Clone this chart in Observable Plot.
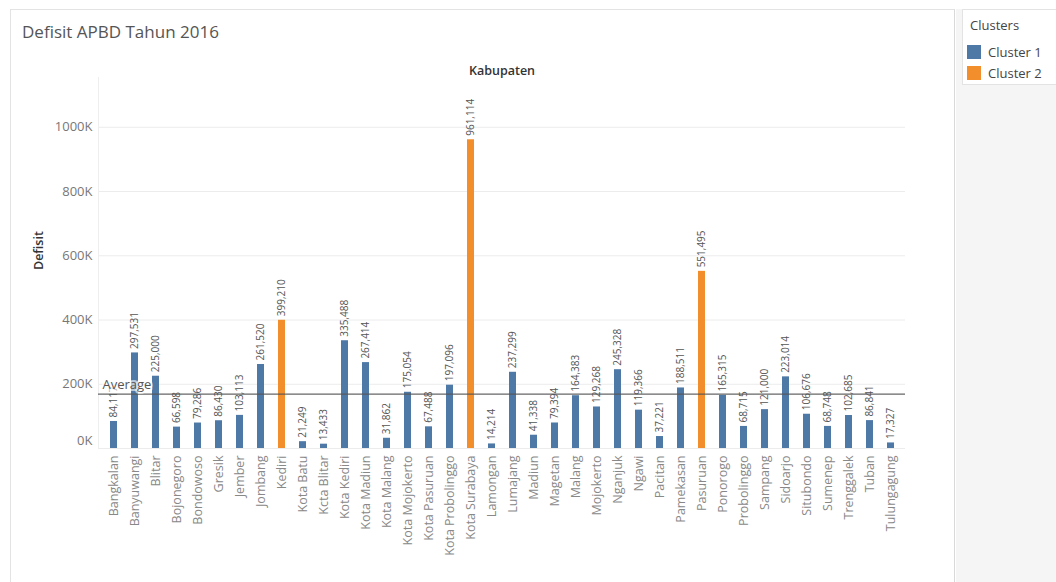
<!DOCTYPE html>
<html>
<head>
<meta charset="utf-8">
<script src="https://cdn.jsdelivr.net/npm/d3@7"></script>
<script src="https://cdn.jsdelivr.net/npm/@observablehq/plot@0.6"></script>
<style>
  html, body { margin: 0; padding: 0; background: #fff; width: 1056px; height: 582px; overflow: hidden; font-family: "Open Sans", sans-serif; }
  #box { position: absolute; left: 10px; top: 9px; width: 945px; height: 580px; border-left: 1px solid #e3e3e3; border-top: 1px solid #e3e3e3; border-right: 1px solid #d9d9d9; box-sizing: border-box; }
  #title { position: absolute; left: 22px; top: 20px; font-size: 17px; color: #555; }
  #chart { position: absolute; left: 10px; top: 50px; }
  #side { position: absolute; left: 956px; top: 9px; width: 100px; height: 573px; background: #f5f5f5; }
  #legend { position: absolute; left: 962px; top: 9px; width: 94px; height: 76px; background: #fff; border: 1px solid #e3e3e3; border-right: none; box-sizing: border-box; }
  #legend .t { position: absolute; left: 7px; top: 6px; font-size: 13px; color: #444; }
  #legend .row { position: absolute; left: 4px; font-size: 13px; color: #444; display: flex; align-items: center; }
  #legend .sw { width: 14px; height: 14px; margin-right: 7px; }
</style>
</head>
<body>
<div id="box"></div>
<div id="title">Defisit APBD Tahun 2016</div>
<div id="side"></div>
<div id="legend"></div>
<div id="chart"></div>
<script>
const categories = ["Bangkalan","Banyuwangi","Blitar","Bojonegoro","Bondowoso","Gresik","Jember","Jombang","Kediri","Kota Batu","Kcta Blitar","Kota Kediri","Kota Madiun","Kota Malang","Kota Mojokerto","Kota Pasuruan","Kota Probolinggo","Kota Surabaya","Lamongan","Lumajang","Madiun","Magetan","Malang","Mojokerto","Nganjuk","Ngawi","Pacitan","Pamekasan","Pasuruan","Ponorogo","Probolinggo","Sampang","Sidoarjo","Situbondo","Sumenep","Trenggalek","Tuban","Tulungagung"];
const defisit = [84117,297531,225000,66598,79286,86430,103113,261520,399210,21249,13433,335488,267414,31862,175054,67488,197096,961114,14214,237299,41338,79394,164383,129268,245328,119366,37221,188511,551495,165315,68715,121000,223014,106676,68748,102685,86841,17327];
const clusters = ["Cluster 1","Cluster 1","Cluster 1","Cluster 1","Cluster 1","Cluster 1","Cluster 1","Cluster 1","Cluster 2","Cluster 1","Cluster 1","Cluster 1","Cluster 1","Cluster 1","Cluster 1","Cluster 1","Cluster 1","Cluster 2","Cluster 1","Cluster 1","Cluster 1","Cluster 1","Cluster 1","Cluster 1","Cluster 1","Cluster 1","Cluster 1","Cluster 1","Cluster 2","Cluster 1","Cluster 1","Cluster 1","Cluster 1","Cluster 1","Cluster 1","Cluster 1","Cluster 1","Cluster 1"];
const clusterNames = ["Cluster 1","Cluster 2"];
const clusterColors = ["#4e79a7","#f28e2b"];
const yTicks = [0,200000,400000,600000,800000,1000000];

const data = categories.map((k, i) => ({kab: k, defisit: defisit[i], cluster: clusters[i]}));
const avg = d3.mean(defisit);
const fmtK = d => (d / 1000) + "K";

const chart = Plot.plot({
  width: 945,
  height: 532,
  marginLeft: 88,
  marginRight: 50,
  marginTop: 27,
  marginBottom: 134,
  style: {fontFamily: "Open Sans, sans-serif", background: "transparent", overflow: "visible"},
  x: {domain: categories, paddingInner: 0.69, paddingOuter: 0.42, label: null},
  y: {domain: [0, 1155000], label: null},
  color: {domain: clusterNames, range: clusterColors},
  marks: [
    Plot.gridY(yTicks, {stroke: "#ececec", strokeOpacity: 1}),
    Plot.frame({anchor: "left", stroke: "#eeeeee"}),
    Plot.axisY(yTicks.filter(d => d > 0), {tickFormat: fmtK, tickSize: 0, tickPadding: 6, fontSize: 13, fill: "#777", label: null}),
    Plot.axisY([0], {tickFormat: fmtK, tickSize: 0, tickPadding: 6, dy: -8, fontSize: 13, fill: "#777", label: null}),
    Plot.axisX({tickRotate: -90, tickSize: 0, tickPadding: 7, fontSize: 12.5, fill: "#888", label: null}),
    Plot.barY(data, {x: "kab", y: "defisit", fill: "cluster"}),
    Plot.text(data, {x: "kab", y: "defisit", text: d => d3.format(",")(d.defisit), rotate: -90, textAnchor: "start", dy: -4, fontSize: 10, fill: "#555"}),
    Plot.ruleY([avg], {stroke: "#555", strokeWidth: 1.3, strokeOpacity: 0.9}),
    Plot.text([avg], {y: d => d, frameAnchor: "left", text: () => "Average", textAnchor: "start", dx: 4, dy: -9, fontSize: 13, fill: "#555", stroke: "white", strokeOpacity: 0.6, strokeWidth: 4}),
    Plot.text(["Kabupaten"], {frameAnchor: "top", dy: -11, text: d => d, fontSize: 12.5, fontWeight: 600, fill: "#333"}),
    Plot.text(["Defisit"], {frameAnchor: "left", dx: -60, dy: 7, rotate: -90, text: d => d, fontSize: 12.5, fontWeight: 600, fill: "#333"})
  ]
});
document.getElementById("chart").appendChild(chart);

const legend = document.getElementById("legend");
const t = document.createElement("div");
t.className = "t"; t.textContent = "Clusters";
legend.appendChild(t);
clusterNames.forEach((name, i) => {
  const row = document.createElement("div");
  row.className = "row";
  row.style.top = (33 + i * 21) + "px";
  const sw = document.createElement("div");
  sw.className = "sw"; sw.style.background = clusterColors[i];
  const lb = document.createElement("span");
  lb.textContent = name;
  row.appendChild(sw); row.appendChild(lb);
  legend.appendChild(row);
});
</script>
</body>
</html>
